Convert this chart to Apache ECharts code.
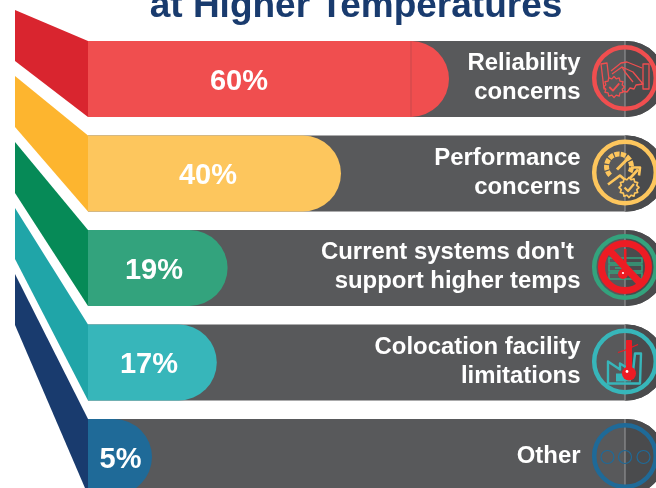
<!DOCTYPE html>
<html><head><meta charset="utf-8">
<style>html,body{margin:0;padding:0;background:#fff}#c{width:656px;height:488px}</style>
<script src="https://cdn.jsdelivr.net/npm/echarts@6/dist/echarts.min.js"></script>
</head><body><div id="c"></div>
<script>
const categories = ['Reliability\nconcerns','Performance\nconcerns',"Current systems don't \nsupport higher temps",'Colocation facility\nlimitations','Other'];
const values = [60,40,19,17,5];
const trackValue = 100;
const tickLabels = ['60%','40%','19%','17%','5%'];
const barColors = ['#F04E4F','#FDC65D','#33A37D','#37B6BA','#1F6A98'];
const wingColors = ['#D9252F','#FDB52F','#068A57','#20A5A8','#193B6E'];
const labelCentersPx = [239,208,154,149,120.5];
const TRACK='#58595B', TRACK_DARK='#4A4B4D', FONT='"Liberation Sans", Arial, sans-serif';

const line=(pts,color,w,fill,closed)=>({type:closed?'polygon':'polyline',shape:{points:pts},style:{stroke:color,lineWidth:w,fill:fill||null,lineJoin:'round'}});
const circ=(x,y,r,stroke,w,fill)=>({type:'circle',shape:{cx:x,cy:y,r},style:{stroke:stroke||null,lineWidth:w||0,fill:fill||null}});
const box=(x,y,wd,h,stroke,w,fill)=>({type:'rect',shape:{x,y,width:wd,height:h},style:{stroke:stroke||null,lineWidth:w||0,fill:fill||null}});
function seal(cx,cy,r,color,w){
  const p=[];for(let i=0;i<24;i++){const a=i*Math.PI/12,R=i%2?r*0.8:r;p.push([cx+R*Math.cos(a),cy+R*Math.sin(a)]);}
  return [line(p,color,w,TRACK,true),line([[cx-r*.45,cy],[cx-r*.1,cy+r*.35],[cx+r*.5,cy-r*.35]],color,w+.5)];
}
const icons=[
 c=>[
  line([[-24,-14],[-18,-15],[-15,10],[-21,11]],c,1.3,null,true),
  line([[18,-14],[24,-14],[24,11],[18,11]],c,1.3,null,true),
  line([[-14,-7],[-4,-15],[2,-16],[17,-10]],c,1.3),
  line([[-13,-4],[-3,-11],[8,-6],[18,6],[11,7],[9,11],[5,10],[2,14],[-3,13]],c,1.3),
  line([[-3,-11],[0,-6],[8,4]],c,1.3),
  ...seal(-11,9,10.5,c,1.3)],
 c=>[
  {type:'arc',shape:{cx:-6,cy:-6,r:12.5,startAngle:Math.PI*.75,endAngle:Math.PI*.15},style:{stroke:c,lineWidth:5,fill:null,lineDash:[5,1.2]}},
  line([[-8,-3],[3,-14]],c,3),
  line([[-17,12],[-5,3],[2,9],[13,-3]],c,2.6),
  line([[6,-5],[15,-5],[14,3]],c,2.6),
  ...seal(4,15,10,c,1.7)],
 c=>[
  box(-16,-9,33,5,'#33A37D',1.5),box(-16,-2,33,6,'#33A37D',1.5),box(-16,6,33,6,'#33A37D',1.5),
  line([[-10,1],[4,1]],'#33A37D',1.5),
  box(-1,-18,2.5,28,null,0,'#ED1C24'),circ(-2,7,5,null,0,'#ED1C24'),
  circ(-2,6,1.1,null,0,'#fff'),
  circ(0,0,23.5,'#ED1C24',7),
  line([[-16,-17],[16,17]],'#ED1C24',7)],
 c=>[
  line([[-17,0],[-5,8],[-5,2],[8,10],[10,-8],[16,-8],[15,22],[-17,22]],c,2.4,null,true),
  box(-9,12,15,8,null,0,c),
  line([[-7,-9],[2,-12]],'#ED1C24',1.3),line([[6,-14],[13,-17]],'#ED1C24',1.3),
  box(1.5,-21,5,32,'#ED1C24',1,'#ED1C24'),circ(4,12,7,null,0,'#ED1C24'),
  circ(2,10,1.4,null,0,'#fff')],
 c=>[circ(-17.5,1,6.5,c,1.2),circ(0,1,6.5,c,1.2),circ(18.5,1,6.5,c,1.2)]
];

function renderItem(params,api){
  const i=params.dataIndex, v=api.value(0);
  const [xEnd,yc]=api.coord([v,i]);
  const [xTrack]=api.coord([trackValue,i]);
  const h=76, top=yc-h/2;
  const left=params.coordSys.x, wingLeft=15, wingTop=10+66*i, wingH=51;
  const seamX=625;
  const kids=[
    {type:'polygon',shape:{points:[[wingLeft,wingTop],[left,top],[left,top+h],[wingLeft,wingTop+wingH]]},style:{fill:wingColors[i]}},
    {type:'rect',shape:{x:left,y:top,width:xTrack-left,height:h,r:[0,38,38,0]},style:{fill:TRACK}},
    {type:'rect',shape:{x:seamX,y:top,width:xTrack-seamX,height:h,r:[0,38,38,0]},style:{fill:TRACK_DARK}},
    {type:'rect',shape:{x:seamX-.5,y:top,width:1,height:h},style:{fill:'#9A9B9D'}},
    {type:'rect',shape:{x:left,y:top,width:xEnd-left,height:h,r:[0,38,38,0]},style:{fill:barColors[i]}},
    {type:'text',x:labelCentersPx[i],y:yc+2.5,style:{text:tickLabels[i],fill:'#fff',font:'bold 29px '+FONT,align:'center',verticalAlign:'middle'}},
    {type:'text',x:580.5,y:yc-.5,scaleX:1.04,style:{text:categories[i],fill:'#fff',font:'bold 23px '+FONT,lineHeight:29,align:'right',verticalAlign:'middle'}},
    {type:'group',x:625,y:yc-1,children:[circ(0,0,30.8,barColors[i],4.5),...icons[i](barColors[i])]}
  ];
  if(i===0) kids.splice(5,0,{type:'rect',shape:{x:410.5,y:top,width:1,height:h},style:{fill:'#C8484C'}});
  return {type:'group',children:kids};
}
const chart=echarts.init(document.getElementById('c'));
chart.setOption({
  animation:false,
  title:{text:'at Higher Temperatures',left:351,top:-17,textAlign:'center',textStyle:{color:'#193B6E',fontFamily:FONT,fontWeight:'bold',fontSize:37}},
  grid:{left:88,right:-9,top:31.75,height:472.5,outerBoundsMode:'none'},
  xAxis:{type:'value',min:-6.85,max:100,show:false},
  yAxis:{type:'category',inverse:true,show:false,data:categories},
  series:[{type:'custom',renderItem,clip:false,encode:{x:0,y:1},data:values.map((v,i)=>[v,i])}]
});
</script></body></html>
